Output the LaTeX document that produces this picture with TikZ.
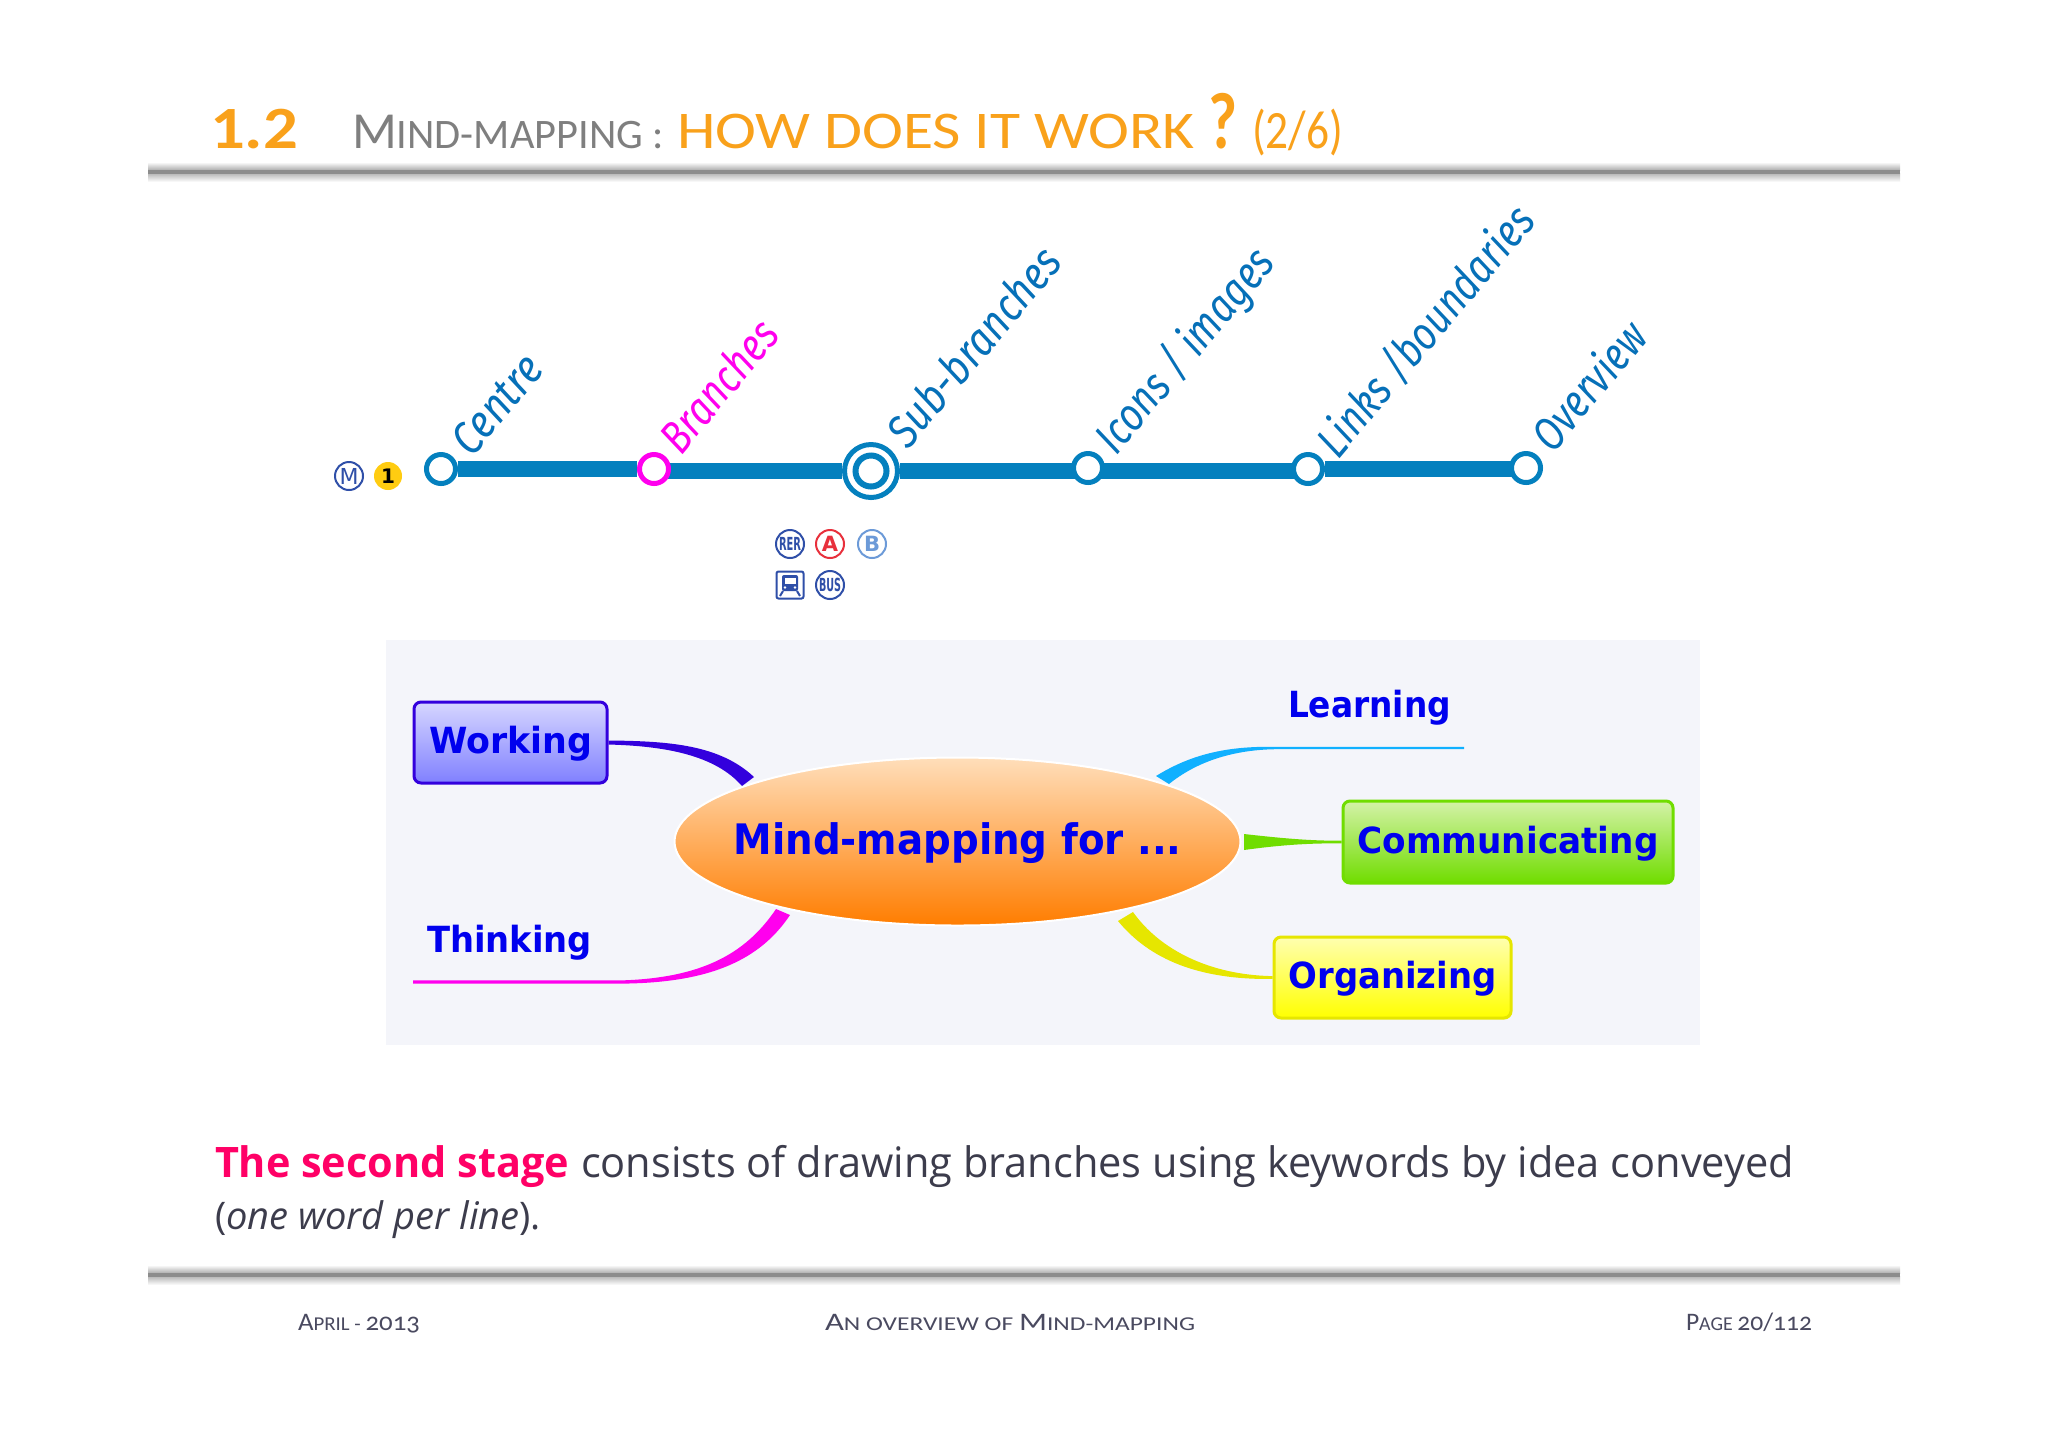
\documentclass[tikz,border=0pt]{standalone}
\usepackage{fontspec}
\usepackage{graphicx}
\usetikzlibrary{shapes.geometric}
\setmainfont{Open Sans}
\newfontfamily\headfont[Numbers=Lining]{Carlito}
\newfontfamily\footfont[Numbers=OldStyle]{Carlito}
\newfontfamily\mapfont{DejaVu Sans}
\newfontfamily\handfont{Fira Sans}
\newdimen\pxu \pxu=0.5pt
\newcommand{\fitw}[2]{\resizebox{#1\pxu}{\height}{#2}}
\newcommand{\fsz}[1]{\fontsize{#1}{#1}\selectfont}
% text centred in a box: baseline #1 px under the centre of the node
\newcommand{\boxtext}[3]{\raisebox{-#1\pxu}[0pt][0pt]{\makebox[0pt]{\fitw{#2}{#3}}}}
\newcommand{\bigc}[1]{{\fsz{12.6}#1}}
\newcommand{\smallc}[1]{{\fsz{9.8}#1}}
\pgfdeclarelayer{paper}
\pgfdeclarelayer{tracks}
\pgfsetlayers{paper,tracks,main}
\definecolor{orangeT}{HTML}{F9A11B}
\definecolor{greyT}{HTML}{7F7F7F}
\definecolor{bodyT}{HTML}{3C3C4C}
\definecolor{footT}{HTML}{4A4A60}
\definecolor{pinkT}{HTML}{FF0066}
\definecolor{lineB}{HTML}{0480BE}
\definecolor{labelB}{HTML}{0670B8}
\definecolor{panelC}{HTML}{F4F5FA}
\definecolor{textB}{HTML}{0000EE}
\definecolor{violetC}{HTML}{3300DD}
\definecolor{skyC}{HTML}{10B0FF}
\definecolor{greenC}{HTML}{70DD00}
\definecolor{yellowC}{HTML}{E6E600}
\definecolor{magC}{HTML}{FF00EE}
\definecolor{ratpB}{HTML}{2F4FA8}
\definecolor{ratpR}{HTML}{E8303C}
\definecolor{ratpL}{HTML}{6C9AD8}
\definecolor{goldC}{HTML}{FFCC11}
\tikzset{
  txt/.style={inner sep=0pt,outer sep=0pt,anchor=base west},
  title/.style={txt,font=\headfont},
  foot/.style={txt,font=\footfont,text=footT},
  hand/.style={txt,rotate=50,font=\handfont\itshape\fsz{23},text=labelB},
  mapt/.style={txt,font=\mapfont\bfseries\fsz{18},text=textB},
  station/.style={circle,draw=lineB,fill=white,line width=2.5pt,minimum size=14.5pt,inner sep=0pt},
  track/.style={draw=lineB,line width=8pt},
  ratp/.style={circle,draw=ratpB,fill=white,line width=1pt,minimum size=14pt,inner sep=0pt,font=\mapfont\bfseries,text=ratpB},
  mapbox/.style={rectangle,rounded corners=3.5pt,line width=1.5pt,inner sep=0pt,text=textB,font=\mapfont\bfseries\fsz{18}},
}
\begin{document}
\begin{tikzpicture}[x=0.5pt,y=-0.5pt]
\useasboundingbox (0,0) rectangle (2048,1447);
\begin{pgfonlayer}{paper}
\fill[white] (0,0) rectangle (2048,1447);
\end{pgfonlayer}
% header rule
\shade[top color=white,bottom color=black!32] (148,162) rectangle (1900,170);
\shade[top color=black!28,bottom color=white] (148,173.5) rectangle (1900,182);
\fill[black!45] (148,170) rectangle (1900,173.5);
% footer rule
\shade[top color=white,bottom color=black!32] (148,1265) rectangle (1900,1273);
\shade[top color=black!28,bottom color=white] (148,1276.5) rectangle (1900,1285);
\fill[black!45] (148,1273) rectangle (1900,1276.5);
% title
\node[title,text=orangeT,font=\headfont\bfseries\fsz{30}] (tnum) at (210,148) {\fitw{88}{1.2}};
\node[title,text=greyT] (tmm) at (352,148) {\fitw{312}{{\fsz{26}M}{\fsz{21}IND-MAPPING :}}};
\node[title,text=orangeT,font=\headfont\fsz{26.5}] (thow) at (677,148) {\fitw{518}{HOW DOES IT WORK}};
\node[title,text=orangeT,font=\headfont\bfseries\fsz{40}] (tq) at (1208,148) {\fitw{29}{?}};
\node[title,text=orangeT,font=\headfont\fsz{27}] (tpg) at (1252,148) {\fitw{91}{(2/6)}};
% metro line
\node[station] (centre) at (441,469) {};
\node[station,draw=magC] (branches) at (654,469) {};
\node[station,minimum size=26.5pt] (sub) at (871,471) {};
\node[station,minimum size=15.5pt,line width=3pt] (subin) at (871,471) {};
\node[station] (icons) at (1088,468) {};
\node[station] (links) at (1308,469) {};
\node[station] (overview) at (1526,468) {};
\begin{pgfonlayer}{tracks}
\draw[track] (centre) -- (branches);
\draw[track] (branches |- sub) -- (sub);
\draw[track] (sub) -- (icons |- sub);
\draw[track] (icons |- sub) -- (links |- sub);
\draw[track] (links) -- (overview |- links);
\end{pgfonlayer}
\node[hand] (lcentre) at (472,458) {\fitw{114}{Centre}};
\node[hand,text=magC] (lbranches) at (681,456) {\fitw{156}{Branches}};
\node[hand] (lsub) at (908,450) {\fitw{243}{Sub-branches}};
\node[hand] (licons) at (1116,456) {\fitw{250}{Icons / images}};
\node[hand] (llinks) at (1338,460) {\fitw{310}{Links /boundaries}};
\node[hand] (lover) at (1553,454) {\fitw{151}{Overview}};
% transport icons
\node[ratp,font=\mapfont\fsz{11}] (im) at (349,476) {M};
\node[ratp,draw=none,fill=goldC,text=black,font=\mapfont\bfseries\fsz{10}] (i1) at (388,476) {1};
\node[ratp] (irer) at (790,544) {\fitw{22}{\fsz{9}RER}};
\node[ratp,draw=ratpR,text=ratpR,font=\mapfont\bfseries\fsz{10.5}] (ia) at (830,544) {A};
\node[ratp,draw=ratpL,text=ratpL,font=\mapfont\bfseries\fsz{10.5}] (ib) at (872,544) {B};
\node[ratp] (ibus) at (830,585) {\fitw{22}{\fsz{9}BUS}};
\node[rectangle,draw=ratpB,fill=white,line width=1pt,rounded corners=1pt,minimum size=13.5pt,inner sep=0pt] (itrain) at (790,585) {};
\fill[ratpB,rounded corners=1pt] (782,575) rectangle (798,591);
\fill[white] (784.5,578) rectangle (795.5,584);
\fill[white] (785,587.5) circle (1.3) (795,587.5) circle (1.3);
\draw[ratpB,line width=1pt] (783,591) -- (780,596) (797,591) -- (800,596);
% panel
\fill[panelC] (386,640) rectangle (1700,1045);
% central ellipse and boxes
\node[ellipse,draw=white,line width=1pt,minimum width=283pt,minimum height=84pt,inner sep=0pt,text=textB,font=\mapfont\bfseries\fsz{21},top color={rgb,255:red,255;green,222;blue,186},bottom color={rgb,255:red,255;green,125;blue,0}] (hub) at (957.5,841.5) {\boxtext{12.5}{448}{Mind-mapping for ...}};
\node[mapbox,draw=violetC,top color={rgb,255:red,214;green,214;blue,255},bottom color={rgb,255:red,128;green,128;blue,255},minimum width=96.5pt,minimum height=40.5pt] (working) at (510.5,742.5) {\boxtext{10.5}{163}{Working}};
\node[mapbox,draw=greenC,top color={rgb,255:red,212;green,242;blue,168},bottom color=greenC,minimum width=165pt,minimum height=41pt] (comm) at (1508,842) {\boxtext{11}{301}{Communicating}};
\node[mapbox,draw=yellowC,top color={rgb,255:red,255;green,255;blue,176},bottom color={rgb,255:red,255;green,255;blue,0},minimum width=118.5pt,minimum height=40.5pt] (org) at (1392.5,977.5) {\boxtext{10.5}{208}{Organizing}};
\node[mapt] (learning) at (1288,717) {\fitw{163}{Learning}};
\node[mapt] (thinking) at (427,952) {\fitw{165}{Thinking}};
% branch ends
\coordinate (thinkEnd) at (413,982);
\coordinate (learnEnd) at (1464,748);
% tapered branches
\fill[violetC] ([yshift=1pt]working.east) .. controls (670,741) and (720,745) .. (754,777) -- (742,786) .. controls (715,755) and (665,746) .. ([yshift=-1pt]working.east) -- cycle;
\fill[magC] ([yshift=0.8pt]thinkEnd) -- (621,980.4) .. controls (700,978) and (745,955) .. (776,909) -- (790,915) .. controls (760,960) and (710,983) .. (621,983.6) -- ([yshift=-0.8pt]thinkEnd) -- cycle;
\fill[skyC] ([yshift=0.6pt]learnEnd) -- (1275,746.8) .. controls (1225,746) and (1190,755) .. (1156,776) -- (1169,784) .. controls (1195,763) and (1230,750) .. (1275,749.2) -- ([yshift=-0.6pt]learnEnd) -- cycle;
\fill[greenC] ([yshift=0.7pt]comm.west) .. controls (1310,841) and (1280,838) .. (1244,834) -- (1244,850) .. controls (1280,845) and (1310,843) .. ([yshift=-0.7pt]comm.west) -- cycle;
\fill[yellowC] (1133,912) .. controls (1160,950) and (1210,975) .. ([yshift=0.7pt]org.west) -- ([yshift=-0.7pt]org.west) .. controls (1200,980) and (1150,960) .. (1118,921) -- cycle;
% body text
\node[txt,font=\bfseries\fsz{21},text=pinkT] (stage) at (215,1177) {\fitw{354}{The second stage}};
\node[txt,font=\fsz{21},text=bodyT] (rest) at (581,1177) {\fitw{1213}{consists of drawing branches using keywords by idea conveyed}};
\node[txt,font=\fsz{19},text=bodyT] (paren) at (215,1229) {\fitw{326}{(\textit{one word per line}).}};
% footer
\node[foot] (fl) at (298,1330) {\fitw{122}{\bigc{A}\smallc{PRIL - }\bigc{2013}}};
\node[foot] (fc) at (825,1330) {\fitw{370}{\bigc{A}\smallc{N OVERVIEW OF }\bigc{M}\smallc{IND-MAPPING}}};
\node[foot] (fr) at (1686,1330) {\fitw{126}{\bigc{P}\smallc{AGE }\bigc{20/112}}};
\end{tikzpicture}
\end{document}
